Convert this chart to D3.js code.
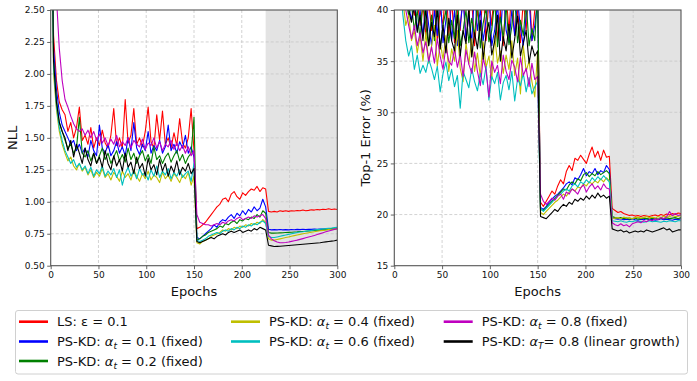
<!DOCTYPE html>
<html><head><meta charset="utf-8">
<script src="https://cdn.jsdelivr.net/npm/d3@7"></script>
<style>body{margin:0;background:#fff}svg{display:block}text{font-family:"DejaVu Sans",sans-serif}</style>
</head><body><svg id="c" width="697" height="381"></svg>
<script>
const epochs = [0,3,6,9,12,15,18,21,24,27,30,33,36,39,42,45,48,51,54,57,60,63,66,69,72,75,78,81,84,87,90,93,96,99,102,105,108,111,114,117,120,123,126,129,132,135,138,141,144,147,150,153,156,159,162,165,168,171,174,177,180,183,186,189,192,195,198,201,204,207,210,213,216,219,222,225,228,231,234,237,240,243,246,249,252,255,258,261,264,267,270,273,276,279,282,285,288,291,294,297,300];
const epochTicks = [0,50,100,150,200,250,300];
const nllTicks = [0.5,0.75,1.0,1.25,1.5,1.75,2.0,2.25,2.5];
const errTicks = [15,20,25,30,35,40];
const shadeRange = [225,300];

const nllLS = [4.0,2.3,1.95,1.78,1.72,1.68,1.55,1.62,1.50,1.58,
1.74,1.48,1.52,1.45,1.58,1.42,1.50,1.44,1.56,1.46,
1.42,1.52,1.73,1.44,1.50,1.42,1.80,1.46,1.52,1.73,
1.45,1.50,1.43,1.55,1.74,1.47,1.42,1.68,1.48,1.71,
1.45,1.50,1.42,1.54,1.44,1.65,1.46,1.42,1.50,1.73,
1.40,0.79,0.80,0.82,0.84,0.87,0.90,0.93,0.96,0.98,
1.02,1.03,1.00,1.06,1.08,1.04,1.02,1.07,1.05,1.08,
1.10,1.09,1.12,1.08,1.11,1.10,0.925,0.92,0.925,0.92,
0.93,0.925,0.93,0.925,0.93,0.928,0.932,0.93,0.935,0.93,
0.933,0.937,0.935,0.94,0.937,0.942,0.94,0.945,0.94,0.943,
0.94];
const nllA01 = [4.0,2.2,1.88,1.70,1.60,1.55,1.50,1.45,1.48,1.40,
1.45,1.38,1.42,1.35,1.48,1.40,1.36,1.60,1.42,1.38,
1.45,1.36,1.40,1.47,1.38,1.43,1.36,1.50,1.40,1.62,
1.42,1.37,1.45,1.40,1.55,1.38,1.44,1.40,1.48,1.38,
1.43,1.60,1.40,1.45,1.38,1.47,1.42,1.52,1.38,1.43,
1.35,0.72,0.71,0.73,0.75,0.77,0.79,0.82,0.80,0.84,
0.86,0.85,0.88,0.90,0.87,0.91,0.89,0.93,0.90,0.94,
0.92,0.96,0.93,0.95,1.02,0.96,0.785,0.78,0.782,0.78,
0.783,0.78,0.782,0.78,0.783,0.781,0.784,0.782,0.785,0.783,
0.785,0.784,0.786,0.785,0.787,0.786,0.788,0.787,0.789,0.79,
0.795];
const nllA02 = [4.0,2.1,1.80,1.62,1.55,1.48,1.42,1.45,1.38,1.42,
1.66,1.38,1.35,1.40,1.32,1.38,1.30,1.36,1.42,1.33,
1.38,1.30,1.35,1.40,1.32,1.37,1.31,1.42,1.33,1.38,
1.30,1.36,1.40,1.32,1.37,1.30,1.43,1.33,1.36,1.30,
1.35,1.38,1.31,1.36,1.40,1.32,1.37,1.30,1.35,1.38,
1.66,0.70,0.71,0.73,0.74,0.76,0.77,0.78,0.79,0.81,
0.80,0.83,0.82,0.84,0.85,0.83,0.86,0.85,0.87,0.86,
0.88,0.87,0.90,0.88,0.93,0.91,0.76,0.755,0.755,0.756,
0.757,0.758,0.76,0.761,0.762,0.764,0.765,0.767,0.768,0.77,
0.772,0.773,0.775,0.777,0.778,0.78,0.782,0.784,0.786,0.788,
0.79];
const nllA04 = [4.0,2.0,1.72,1.55,1.45,1.38,1.32,1.35,1.28,1.25,
1.30,1.24,1.27,1.21,1.25,1.19,1.23,1.20,1.26,1.19,
1.22,1.17,1.23,1.20,1.16,1.24,1.19,1.22,1.17,1.25,
1.20,1.16,1.22,1.18,1.24,1.17,1.21,1.19,1.15,1.23,
1.18,1.21,1.16,1.22,1.19,1.15,1.21,1.18,1.23,1.13,
1.20,0.68,0.67,0.69,0.70,0.71,0.73,0.74,0.75,0.76,
0.78,0.77,0.79,0.78,0.80,0.79,0.81,0.80,0.82,0.81,
0.83,0.82,0.84,0.83,0.86,0.84,0.71,0.70,0.70,0.705,
0.71,0.715,0.72,0.725,0.73,0.735,0.74,0.745,0.75,0.754,
0.758,0.762,0.766,0.77,0.773,0.776,0.779,0.782,0.785,0.788,
0.79];
const nllA06 = [4.0,2.05,1.75,1.58,1.48,1.40,1.35,1.30,1.33,1.27,
1.30,1.25,1.28,1.22,1.27,1.20,1.25,1.22,1.28,1.20,
1.24,1.21,1.26,1.19,1.25,1.13,1.22,1.27,1.20,1.24,
1.18,1.26,1.21,1.23,1.17,1.25,1.20,1.28,1.19,1.24,
1.21,1.26,1.18,1.23,1.20,1.25,1.19,1.22,1.24,1.16,
1.30,0.70,0.69,0.70,0.71,0.73,0.74,0.75,0.76,0.75,
0.77,0.78,0.77,0.79,0.78,0.80,0.79,0.81,0.80,0.82,
0.81,0.83,0.82,0.84,0.85,0.83,0.73,0.72,0.72,0.725,
0.73,0.735,0.74,0.745,0.75,0.755,0.76,0.763,0.766,0.77,
0.773,0.776,0.779,0.782,0.785,0.788,0.79,0.793,0.795,0.798,
0.80];
const nllA08 = [5.0,3.2,2.6,2.2,1.95,1.80,1.74,1.67,1.61,1.57,
1.55,1.57,1.52,1.56,1.50,1.55,1.48,1.53,1.46,1.50,
1.44,1.49,1.45,1.52,1.43,1.47,1.44,1.50,1.42,1.48,
1.45,1.43,1.49,1.41,1.46,1.44,1.50,1.42,1.47,1.40,
1.45,1.43,1.48,1.41,1.46,1.40,1.44,1.38,1.43,1.36,
1.40,0.90,0.84,0.83,0.82,0.82,0.81,0.82,0.83,0.82,
0.84,0.83,0.85,0.86,0.85,0.87,0.88,0.86,0.87,0.88,
0.87,0.89,0.88,0.89,0.90,0.87,0.74,0.71,0.695,0.685,
0.68,0.68,0.682,0.685,0.69,0.695,0.70,0.706,0.712,0.718,
0.724,0.73,0.737,0.744,0.751,0.758,0.765,0.772,0.778,0.784,
0.79];
const nllLin = [4.0,2.1,1.78,1.62,1.55,1.50,1.40,1.48,1.35,1.45,
1.38,1.30,1.42,1.33,1.28,1.38,1.30,1.35,1.27,1.40,
1.30,1.25,1.36,1.28,1.33,1.24,1.38,1.27,1.31,1.22,
1.35,1.26,1.30,1.20,1.34,1.25,1.29,1.21,1.33,1.24,
1.30,1.20,1.28,1.23,1.32,1.21,1.27,1.24,1.30,1.22,
1.26,0.69,0.68,0.69,0.70,0.71,0.72,0.71,0.73,0.74,
0.75,0.74,0.76,0.77,0.76,0.77,0.78,0.76,0.77,0.78,
0.77,0.79,0.78,0.80,0.79,0.78,0.66,0.655,0.65,0.651,
0.652,0.654,0.656,0.658,0.66,0.662,0.664,0.666,0.668,0.67,
0.672,0.674,0.676,0.678,0.68,0.683,0.686,0.689,0.692,0.695,
0.70];

const errLS = [80,55,48,45,43,42,41,39.5,41,38.5,
40.5,37.5,41,38,42,37,40,38.5,43,37.5,
41,36.8,40,38,42,37,39.5,41,36.5,40,
38,42,37,41,38.5,43,37,40,36.5,41.5,
38,42,37.5,40,36.8,41,38,43,37,40,
42,21.2,20.8,21.3,21.8,22.3,22.0,22.8,23.4,23.0,
24.2,24.8,24.3,25.5,25.3,25.8,25.4,25.0,25.9,26.6,
25.6,26.2,25.3,26.3,25.6,25.7,20.6,20.4,20.2,20.3,
20.1,20.0,19.9,19.95,19.85,19.9,19.8,19.9,19.85,19.8,
19.9,19.95,19.85,20.0,19.9,20.05,19.95,20.1,20.0,20.15,
20.1];
const errA01 = [80,54,47,44,42,40.5,39,41,38,40,
37.5,41,38.5,36.5,40,37.5,41.5,36.8,39,42,
37,40,36.5,38.5,41,37,39.5,36.8,42,38,
40,37,39,41.5,36.5,38,40.5,37,42,38,
36.8,40,37.5,41,38.2,36.5,39.5,41,37,38.5,
41,20.7,20.5,20.8,21.2,21.5,21.8,22.0,22.3,22.6,
23.0,23.2,22.9,23.6,23.4,23.9,24.5,23.8,24.2,24.0,
24.5,23.9,24.3,24.1,24.8,24.4,19.7,19.6,19.55,19.6,
19.5,19.55,19.5,19.6,19.5,19.45,19.55,19.5,19.6,19.5,
19.55,19.45,19.5,19.6,19.5,19.55,19.5,19.45,19.55,19.5,
19.6];
const errA02 = [80,53,46,43,41,39.5,40.5,38,40,37,
41,38.5,36.5,39.5,37,41,36.2,38.5,40,36.8,
39,37.2,41.5,36.5,38,40,36.8,39.2,37.5,41,
36.3,38.7,40.2,36.9,38,41,36.4,39.3,37.2,40.5,
36.6,38.4,41.2,36.8,39,37.5,40.8,36.5,38.2,37,
42,20.5,20.4,20.7,21.0,21.3,21.6,21.9,22.2,22.5,
22.4,22.9,23.2,23.0,23.5,23.3,23.9,24.1,23.7,24.0,
23.8,24.2,23.9,24.1,24.3,24.0,19.8,19.7,19.65,19.7,
19.6,19.65,19.55,19.6,19.65,19.55,19.6,19.65,19.6,19.55,
19.65,19.6,19.55,19.65,19.6,19.7,19.6,19.65,19.7,19.6,
19.7];
const errA04 = [80,50,44,41,38.5,39.5,37,38,35.8,37.5,
35,37.8,34.8,36.5,38.5,34.5,36.8,35.2,37.5,34,
36.2,35,38,34.3,33,36.8,34.7,37.2,34,35.8,
33.5,36.9,34.4,35.5,33.2,37.5,34.8,36,33.8,35.6,
34.2,37,33.6,35.3,31.8,36.5,34,35,33,31.5,
36,20.2,20.0,20.3,20.6,20.9,21.2,21.4,21.7,22.0,
21.8,22.2,22.5,22.3,22.7,22.6,23.0,22.8,23.2,23.0,
23.3,23.1,23.5,23.2,23.6,23.3,19.6,19.65,19.7,19.6,
19.75,19.65,19.7,19.6,19.7,19.75,19.65,19.7,19.8,19.7,
19.75,19.65,19.8,19.7,19.85,19.75,19.8,19.9,19.8,19.85,
19.9];
const errA06 = [80,49,43,39.5,37,35.5,36.5,34.2,35.6,33.8,
34.6,33.9,35.2,34.3,33.2,34.5,32,33.8,34.9,33.1,
34.2,32.5,33.6,30.4,34,33.2,32.4,34.3,33,32.1,
33.8,32.7,34.5,31.2,33.5,32.8,33.9,31.2,32.9,33.6,
32.2,34,31.1,33.3,32.6,33.8,32,33.4,31.8,32.5,
33,20.6,20.3,20.6,20.9,21.2,21.5,21.8,22.0,22.3,
22.5,22.3,22.8,23.0,22.7,23.2,23.0,23.4,23.1,23.6,
23.3,23.7,23.4,23.8,23.5,23.2,19.4,19.35,19.3,19.4,
19.3,19.25,19.35,19.3,19.4,19.3,19.35,19.25,19.3,19.4,
19.3,19.35,19.3,19.25,19.35,19.3,19.4,19.35,19.3,19.4,
19.4];
const errA08 = [80,52,46,42.5,40,38.5,37.2,38.5,36.5,37.8,
35.8,36.9,35,36.4,34.8,37.2,35.5,34.2,36.5,35,
34.6,36.2,34.4,35.7,33.5,36.1,34.7,33.8,35.9,34,
32.6,35.3,34.1,31.5,35,33.9,34.6,32.8,35.6,34,
33.2,35.1,34.4,33,35.4,33.6,34.3,32.5,34.8,33.2,
33.5,22.0,21.3,21.0,21.3,21.6,21.4,21.8,22.0,21.5,
22.2,22.0,22.5,22.3,22.0,22.6,22.9,22.2,22.7,23.0,
22.5,22.8,22.4,23.0,22.6,22.5,19.2,19.0,18.9,19.1,
18.9,19.0,18.8,19.1,19.2,19.3,19.2,19.4,19.3,19.5,
19.4,19.6,19.5,19.7,19.6,19.8,20.3,19.9,20.1,19.9,
20.0];
const errLin = [80,53,47,44,41.5,40,38.8,40.5,37.8,39.5,
37,40.2,36.5,38.8,37.4,40,36.2,38.5,35.8,39.2,
37,36,39.5,35.5,38,36.7,40.3,35.4,37.8,36.2,
39,35.2,37.6,38.8,35.6,36.9,39.5,35,37.4,36,
38.6,35.3,37.2,39.4,35.5,36.8,38,34.8,36.5,35.5,
36,19.8,19.7,19.6,19.9,20.2,20.5,20.3,20.7,21.0,
20.8,21.2,21.0,21.5,21.3,21.6,21.4,21.8,21.5,21.9,
21.6,22.1,21.7,21.9,21.6,21.8,18.6,18.5,18.4,18.5,
18.3,18.4,18.2,18.3,18.4,18.3,18.4,18.3,18.5,18.4,
18.3,18.4,18.5,18.6,18.7,18.5,18.6,18.3,18.4,18.5,
18.5];

const seriesColors = ["#ff0000","#0000ff","#008000","#bfbf00","#00bfbf","#bf00bf","#000000"];
const nllSeries = [nllLS,nllA01,nllA02,nllA04,nllA06,nllA08,nllLin];
const errSeries = [errLS,errA01,errA02,errA04,errA06,errA08,errLin];
const legendLabels = [
  {pre:"LS: ε = 0.1", g:"", sub:"", post:""},
  {pre:"PS-KD: ", g:"α", sub:"t", post:" = 0.1 (fixed)"},
  {pre:"PS-KD: ", g:"α", sub:"t", post:" = 0.2 (fixed)"},
  {pre:"PS-KD: ", g:"α", sub:"t", post:" = 0.4 (fixed)"},
  {pre:"PS-KD: ", g:"α", sub:"t", post:" = 0.6 (fixed)"},
  {pre:"PS-KD: ", g:"α", sub:"t", post:" = 0.8 (fixed)"},
  {pre:"PS-KD: ", g:"α", sub:"T", post:"= 0.8 (linear growth)"}
];

const svg = d3.select("#c");
const spine = "#555";

function panel(id, left, right, top, bottom, domain, yTicks, fmt, series, ylabel, ylabelX) {
  const x = d3.scaleLinear().domain([0,300]).range([left,right]);
  const y = d3.scaleLinear().domain(domain).range([bottom,top]);
  const g = svg.append("g");
  g.append("defs").append("clipPath").attr("id", id)
    .append("rect").attr("x", left).attr("y", top).attr("width", right-left).attr("height", bottom-top);
  g.append("rect").attr("x", x(shadeRange[0])).attr("y", top)
    .attr("width", x(shadeRange[1]) - x(shadeRange[0])).attr("height", bottom-top).attr("fill", "#e3e3e3");
  // grid
  g.selectAll(".gx").data(epochTicks.slice(1,-1)).join("line")
    .attr("x1", d=>x(d)).attr("x2", d=>x(d)).attr("y1", top).attr("y2", bottom)
    .attr("stroke", "#c8c8c8").attr("stroke-width", 0.8).attr("stroke-dasharray", "3,2");
  g.selectAll(".gy").data(yTicks.slice(1,-1)).join("line")
    .attr("y1", d=>y(d)).attr("y2", d=>y(d)).attr("x1", left).attr("x2", right)
    .attr("stroke", "#c8c8c8").attr("stroke-width", 0.8).attr("stroke-dasharray", "3,2");
  const line = d3.line().x((d,i)=>x(epochs[i])).y(d=>y(d));
  const lg = g.append("g").attr("clip-path", `url(#${id})`);
  series.forEach((s, k) => {
    lg.append("path").datum(s).attr("d", line).attr("fill", "none")
      .attr("stroke", seriesColors[k]).attr("stroke-width", 1.1).attr("stroke-linejoin", "round");
  });
  // frame
  g.append("rect").attr("x", left).attr("y", top).attr("width", right-left).attr("height", bottom-top)
    .attr("fill", "none").attr("stroke", spine).attr("stroke-width", 1.1);
  const xa = g.append("g").attr("transform", `translate(0,${bottom})`)
    .call(d3.axisBottom(x).tickValues(epochTicks).tickSize(3.5).tickPadding(2).tickSizeOuter(0).tickFormat(d3.format("d")));
  const ya = g.append("g").attr("transform", `translate(${left},0)`)
    .call(d3.axisLeft(y).tickValues(yTicks).tickSize(3.5).tickPadding(2.5).tickSizeOuter(0).tickFormat(fmt));
  [xa, ya].forEach(a => {
    a.select(".domain").remove();
    a.selectAll("line").attr("stroke", spine).attr("stroke-width", 0.9);
    a.selectAll("text").attr("font-family", "DejaVu Sans").attr("font-size", 9).attr("fill", "#111");
  });
  g.append("text").attr("x", (left+right)/2).attr("y", 296).attr("text-anchor", "middle")
    .attr("font-size", 13).attr("fill", "#111").text("Epochs");
  g.append("text").attr("transform", `translate(${ylabelX},${(top+bottom)/2}) rotate(-90)`)
    .attr("text-anchor", "middle").attr("dy", "0.35em").attr("font-size", 13).attr("fill", "#111").text(ylabel);
}

panel("clipL", 50.7, 337.3, 10, 265.7, [0.5,2.5], nllTicks, d3.format(".2f"), nllSeries, "NLL", 12.5);
panel("clipR", 394.3, 681, 10, 265.7, [15,40], errTicks, d3.format("d"), errSeries, "Top-1 Error (%)", 365.7);

// legend
const leg = svg.append("g");
leg.append("rect").attr("x", 15.5).attr("y", 310.5).attr("width", 672).attr("height", 63.5)
  .attr("rx", 2.5).attr("fill", "#fff").attr("stroke", "#d0d0d0").attr("stroke-width", 1);
const colX = [19, 231, 443.7];
const rowY = [321.7, 341.5, 361];
const slots = [[0,0],[0,1],[0,2],[1,0],[1,1],[2,0],[2,1]];
legendLabels.forEach((lab, k) => {
  const [c, r] = slots[k];
  const hx = colX[c], hy = rowY[r];
  leg.append("line").attr("x1", hx).attr("x2", hx+29).attr("y1", hy).attr("y2", hy)
    .attr("stroke", seriesColors[k]).attr("stroke-width", 2.6);
  const t = leg.append("text").attr("x", hx+38).attr("y", hy+4.6).attr("font-size", 13).attr("fill", "#111");
  t.append("tspan").text(lab.pre);
  if (lab.g) {
    t.append("tspan").attr("font-style", "italic").text(lab.g);
    t.append("tspan").attr("font-style", "italic").attr("font-size", 9).attr("dy", 3).text(lab.sub);
    t.append("tspan").attr("dy", -3).text(lab.post);
  }
});
</script></body></html>
